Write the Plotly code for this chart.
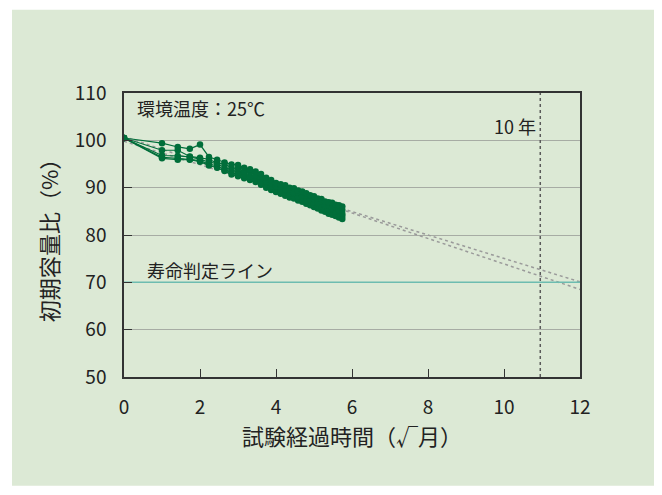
import numpy as np
import plotly.graph_objects as go

months = list(range(34))
series_a = [100.5, 99.4, 98.6, 98.2, 99.1, 96.5, 95.9, 95.3, 94.9, 94.8, 94.2, 93.9, 93.4, 92.9, 92.1, 91.6, 91.0,
            90.7, 90.5, 90.0, 89.9, 89.4, 89.2, 88.8, 88.4, 88.2, 87.7, 87.6, 87.1, 86.9, 86.8, 86.4, 86.3, 86.0]
series_b = [100.5, 97.9, 97.9, 96.6, 96.3, 96.0, 95.2, 95.0, 94.2, 94.0, 93.4, 93.3, 92.6, 92.3, 91.3, 91.0, 90.3,
            90.2, 89.6, 89.6, 89.0, 88.9, 88.3, 88.3, 87.6, 87.6, 86.9, 87.0, 86.3, 86.3, 85.7, 85.8, 85.3, 85.3]
series_c = [100.5, 96.8, 96.7, 96.5, 96.0, 95.4, 95.1, 94.2, 93.8, 93.2, 93.1, 92.4, 92.3, 91.5, 91.2, 90.3, 90.2,
            89.5, 89.5, 88.7, 88.8, 88.1, 88.1, 87.4, 87.4, 86.8, 86.7, 86.1, 86.1, 85.4, 85.5, 84.9, 84.9, 84.5]
series_d = [100.5, 96.4, 96.2, 96.0, 95.7, 95.0, 94.6, 93.8, 93.3, 92.7, 92.6, 91.9, 91.7, 91.0, 90.6, 89.9, 89.6,
            89.1, 88.9, 88.3, 88.2, 87.7, 87.5, 87.0, 86.8, 86.4, 86.1, 85.7, 85.4, 85.0, 84.9, 84.5, 84.3, 84.0]
series_e = [100.5, 96.2, 95.9, 95.9, 95.5, 94.7, 94.2, 93.5, 92.8, 92.4, 92.0, 91.6, 91.2, 90.6, 90.0, 89.5, 89.1,
            88.7, 88.3, 87.9, 87.7, 87.3, 87.0, 86.6, 86.3, 85.9, 85.6, 85.2, 84.9, 84.5, 84.3, 84.0, 83.7, 83.4]

fit_x = [0, 12]
fit_1 = [99.8, 70.1]
fit_2 = [100.8, 68.5]

life_line = 70
ten_year_months = 120
x_ticks = [0, 2, 4, 6, 8, 10, 12]
y_ticks = [50, 60, 70, 80, 90, 100, 110]

x = np.sqrt(months)
ten_x = float(np.sqrt(ten_year_months))

GREEN = "#dce9d5"
DARK = "#006e3a"
FONT = "Noto Sans CJK JP"
TXT = "#222"

fig = go.Figure()

for fy in (fit_1, fit_2):
    fig.add_trace(go.Scatter(x=fit_x, y=fy, mode="lines",
                             line=dict(color="#9a9a9a", width=1.5, dash="dot"),
                             hoverinfo="skip", showlegend=False))

for s in (series_e, series_d, series_c, series_b, series_a):
    fig.add_trace(go.Scatter(x=x, y=s, mode="lines+markers",
                             line=dict(color=DARK, width=1.2),
                             marker=dict(color=DARK, size=6.5),
                             showlegend=False))

fig.add_trace(go.Scatter(x=[0, 12], y=[life_line, life_line], mode="lines",
                         line=dict(color="#6dbcb0", width=1.5), showlegend=False, hoverinfo="skip"))
fig.add_trace(go.Scatter(x=[ten_x, ten_x], y=[50, 110], mode="lines",
                         line=dict(color="#5a5a5a", width=1.5, dash="dot"), showlegend=False, hoverinfo="skip"))

# background panel
fig.add_shape(type="rect", xref="paper", yref="paper",
              x0=-0.2456, x1=1.1667, y0=-0.383, y1=1.2935,
              fillcolor=GREEN, line=dict(width=0), layer="below")

fig.add_annotation(x=0.3, y=106.9, text="環境温度：25℃", showarrow=False, xanchor="left",
                   font=dict(family=FONT, size=18, color=TXT))
fig.add_annotation(x=10.3, y=103.1, text="10 年", showarrow=False,
                   font=dict(family=FONT, size=18, color=TXT))
fig.add_annotation(x=0.55, y=72.7, text="寿命判定ライン", showarrow=False, xanchor="left",
                   font=dict(family=FONT, size=18, color=TXT))

fig.update_layout(
    width=662, height=495,
    margin=dict(l=116, r=90, t=84.5, b=126),
    paper_bgcolor="white", plot_bgcolor=GREEN,
    font=dict(family=FONT, color=TXT),
)
fig.update_xaxes(range=[0, 12], tickvals=x_ticks, showgrid=False, zeroline=False,
                 showline=True, linecolor="#333", linewidth=1.5, mirror=True,
                 ticks="inside", ticklen=8, tickcolor="#333", tickwidth=1.2,
                 ticklabelstandoff=12,
                 tickfont=dict(size=19, family=FONT, color=TXT),
                 title=dict(text="試験経過時間（√月）", font=dict(size=22, family=FONT, color=TXT), standoff=10))
fig.update_yaxes(range=[50, 110], tickvals=y_ticks, showgrid=True, gridcolor="#a7aca4", gridwidth=1.2,
                 zeroline=False, showline=True, linecolor="#333", linewidth=1.5, mirror=True,
                 ticks="inside", ticklen=8, tickcolor="#333", tickwidth=1.2,
                 ticklabelstandoff=12,
                 tickfont=dict(size=19, family=FONT, color=TXT),
                 title=dict(text="初期容量比（%）", font=dict(size=22, family=FONT, color=TXT), standoff=10))

fig.write_html("out.html")
